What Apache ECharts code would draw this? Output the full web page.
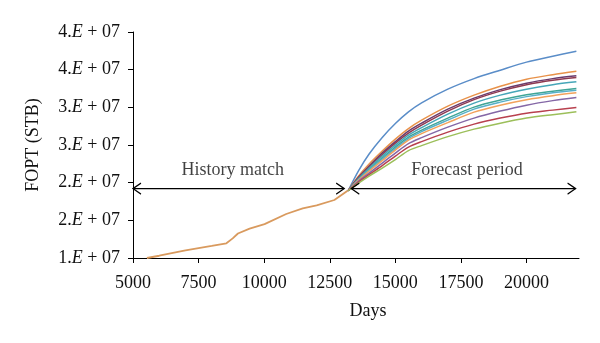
<!DOCTYPE html>
<html>
<head>
<meta charset="utf-8">
<script src="https://cdn.jsdelivr.net/npm/echarts@6/dist/echarts.min.js"></script>
<style>html,body{margin:0;padding:0;background:#fff;}#c{width:600px;height:343px;}</style>
</head>
<body>
<div id="c"></div>
<script>
// ---- data ----
const xTicks = [5000, 7500, 10000, 12500, 15000, 17500, 20000];
const yTickMantissa = ['1.', '2.', '2.', '3.', '3.', '4.', '4.'];

const historyDays = [5530, 6000, 7000, 8000, 8560, 8800, 9000, 9445, 10015, 10840, 11470, 12000, 12675, 13180];
const historyFopt = [1.0e7, 1.03e7, 1.10e7, 1.16e7, 1.195e7, 1.26e7, 1.325e7, 1.39e7, 1.45e7, 1.584e7, 1.659e7, 1.70e7, 1.77e7, 1.893e7];

const forecastDays = [13200, 13600, 14000, 14500, 15000, 15500, 16000, 17000, 18000, 19000, 20000, 21000, 21900];
const fc1  = [1.893e7, 2.160e7, 2.380e7, 2.600e7, 2.785e7, 2.940e7, 3.060e7, 3.241e7, 3.381e7, 3.493e7, 3.600e7, 3.679e7, 3.745e7];
const fc2  = [1.893e7, 2.088e7, 2.247e7, 2.419e7, 2.578e7, 2.718e7, 2.830e7, 3.016e7, 3.162e7, 3.281e7, 3.374e7, 3.434e7, 3.480e7];
const fc3  = [1.893e7, 2.074e7, 2.220e7, 2.393e7, 2.545e7, 2.684e7, 2.790e7, 2.976e7, 3.122e7, 3.235e7, 3.321e7, 3.381e7, 3.418e7];
const fc4  = [1.893e7, 2.061e7, 2.207e7, 2.373e7, 2.525e7, 2.658e7, 2.764e7, 2.950e7, 3.102e7, 3.215e7, 3.301e7, 3.361e7, 3.397e7];
const fc5  = [1.893e7, 2.054e7, 2.194e7, 2.353e7, 2.499e7, 2.631e7, 2.731e7, 2.910e7, 3.056e7, 3.162e7, 3.241e7, 3.301e7, 3.338e7];
const fc6  = [1.893e7, 2.048e7, 2.174e7, 2.326e7, 2.472e7, 2.605e7, 2.698e7, 2.857e7, 3.003e7, 3.096e7, 3.168e7, 3.215e7, 3.251e7];
const fc7  = [1.893e7, 2.041e7, 2.167e7, 2.313e7, 2.452e7, 2.585e7, 2.678e7, 2.830e7, 2.976e7, 3.069e7, 3.142e7, 3.195e7, 3.228e7];
const fc8  = [1.893e7, 2.034e7, 2.154e7, 2.293e7, 2.432e7, 2.565e7, 2.651e7, 2.797e7, 2.936e7, 3.029e7, 3.102e7, 3.155e7, 3.192e7];
const fc9  = [1.893e7, 2.021e7, 2.127e7, 2.260e7, 2.393e7, 2.519e7, 2.598e7, 2.737e7, 2.857e7, 2.950e7, 3.029e7, 3.089e7, 3.131e7];
const fc10 = [1.893e7, 2.008e7, 2.107e7, 2.227e7, 2.353e7, 2.472e7, 2.545e7, 2.671e7, 2.777e7, 2.857e7, 2.923e7, 2.963e7, 2.999e7];
const fc11 = [1.893e7, 1.995e7, 2.088e7, 2.194e7, 2.306e7, 2.426e7, 2.492e7, 2.611e7, 2.711e7, 2.790e7, 2.857e7, 2.903e7, 2.940e7];
const forecasts = [fc1, fc2, fc3, fc4, fc5, fc6, fc7, fc8, fc9, fc10, fc11];
const forecastColors = ['#5A8DC8', '#E8924A', '#6A3B6C', '#8E3A52', '#46A6B8', '#3FA596', '#58B0C8', '#F2A25C', '#8467A6', '#B8404E', '#9CBF5A'];

const arrowY = 1.922e7;
const historyArrow = [5000, 13050];
const forecastArrow = [13320, 21870];
const annotations = [
  { name: 'History match', x: 8800, y: 2.167e7 },
  { name: 'Forecast period', x: 17728, y: 2.167e7 }
];

// ---- chart ----
const serif = '"Liberation Serif", "DejaVu Serif", serif';
const chart = echarts.init(document.getElementById('c'));
const leftHead = 'path://M8,0 L0,5 L8,10';
const rightHead = 'path://M0,0 L8,5 L0,10';

function arrowSeries(range) {
  return {
    type: 'line',
    silent: true,
    z: 5,
    lineStyle: { color: '#000', width: 1.2 },
    itemStyle: { color: 'rgba(0,0,0,0)', borderColor: '#000', borderWidth: 1.2 },
    showSymbol: true,
    animation: false,
    data: [
      { value: [range[0], arrowY], symbol: leftHead, symbolSize: [8, 11], symbolOffset: [4, 0] },
      { value: [range[1], arrowY], symbol: rightHead, symbolSize: [8, 11], symbolOffset: [-4, 0] }
    ]
  };
}

const series = [];
forecasts.forEach((arr, i) => {
  series.push({
    type: 'line',
    data: forecastDays.map((d, j) => [d, arr[j]]),
    showSymbol: false,
    smooth: 0.3,
    lineStyle: { color: forecastColors[i], width: 1.5 },
    animation: false
  });
});
series.push({
  type: 'line',
  data: historyDays.map((d, j) => [d, historyFopt[j]]),
  showSymbol: false,
  lineStyle: { color: '#D99A5E', width: 1.8 },
  animation: false,
  z: 4
});
series.push(arrowSeries(historyArrow));
series.push(arrowSeries(forecastArrow));
series.push({
  type: 'scatter',
  symbolSize: 0,
  silent: true,
  animation: false,
  data: annotations.map(a => ({ name: a.name, value: [a.x, a.y] })),
  label: { show: true, position: 'inside', formatter: '{b}', color: '#111', fontFamily: serif, fontSize: 18 }
});

chart.setOption({
  backgroundColor: '#fff',
  animation: false,
  grid: { left: 133, right: 21, top: 32, bottom: 85 },
  xAxis: {
    type: 'value',
    min: 5000,
    max: 22000,
    interval: 2500,
    name: 'Days',
    nameLocation: 'middle',
    nameGap: 44,
    nameTextStyle: { fontFamily: serif, fontSize: 18, color: '#111', padding: [0, 0, 0, 24] },
    axisLine: { show: true, lineStyle: { color: '#000', width: 1 } },
    axisTick: { show: true, length: 5, lineStyle: { color: '#000' }, customValues: xTicks },
    axisLabel: { fontFamily: serif, fontSize: 18, color: '#111', margin: 16, customValues: xTicks, formatter: v => String(v) },
    splitLine: { show: false }
  },
  yAxis: {
    type: 'value',
    min: 1e7,
    max: 4e7,
    interval: 5e6,
    name: 'FOPT (STB)',
    nameLocation: 'middle',
    nameRotate: 90,
    nameGap: 91,
    nameTextStyle: { fontFamily: serif, fontSize: 18, color: '#111' },
    axisLine: { show: true, lineStyle: { color: '#000', width: 1 } },
    axisTick: { show: true, length: 5, lineStyle: { color: '#000' } },
    axisLabel: {
      margin: 13,
      formatter: (v, idx) => '{n|' + yTickMantissa[idx] + '}{e|E}{n| + 07}',
      rich: {
        n: { fontFamily: serif, fontSize: 18, color: '#111' },
        e: { fontFamily: serif, fontSize: 18, fontStyle: 'italic', color: '#111' }
      }
    },
    splitLine: { show: false }
  },
  series: series
});
</script>
</body>
</html>
